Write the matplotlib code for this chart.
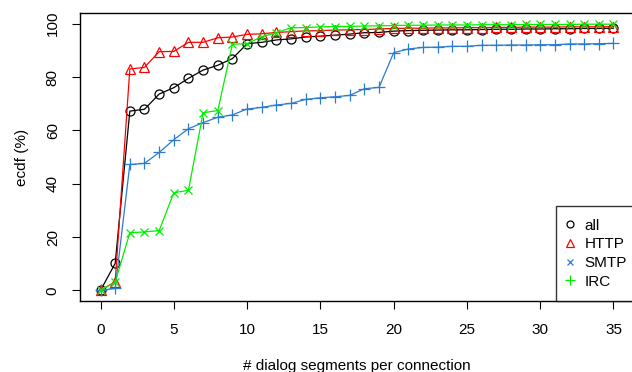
import numpy as np
import matplotlib.pyplot as plt
from matplotlib.lines import Line2D

plt.rcParams['font.family'] = ['Liberation Sans', 'DejaVu Sans']

# ── Data: ecdf (%) per number of dialog segments ──
segments = list(range(36))

ecdf_all = [0, 10.1, 67.2, 67.9, 73.6, 76.0, 79.5, 82.6, 84.4, 86.9,
            92.5, 93.0, 93.9, 94.3, 95.0, 95.3, 95.7, 96.1, 96.6, 96.7,
            97.2, 97.4, 97.5, 97.6, 97.7, 97.7, 97.8, 97.9, 97.9, 98.0,
            98.0, 98.1, 98.1, 98.2, 98.2, 98.3]
ecdf_http = [0, 3.2, 83.0, 83.6, 89.5, 89.6, 93.0, 93.0, 94.7, 95.0,
             96.0, 96.2, 96.7, 97.0, 97.3, 97.4, 97.6, 97.7, 97.8, 98.0,
             98.2, 98.3, 98.3, 98.4, 98.4, 98.5, 98.5, 98.6, 98.6, 98.7,
             98.7, 98.7, 98.8, 98.8, 98.8, 98.9]
ecdf_smtp = [0, 0.7, 47.2, 47.6, 51.7, 56.5, 60.6, 62.9, 64.9, 65.8,
             68.0, 68.6, 69.5, 70.1, 71.6, 72.2, 72.6, 73.1, 75.6, 76.1,
             89.1, 90.5, 91.1, 91.2, 91.5, 91.5, 91.9, 91.9, 92.0, 92.0,
             92.1, 92.1, 92.4, 92.4, 92.5, 92.6]
ecdf_irc = [0, 3.1, 21.6, 21.9, 22.4, 36.6, 37.5, 66.6, 67.4, 92.3,
            92.5, 95.1, 96.6, 98.5, 98.5, 98.8, 98.9, 99.0, 99.1, 99.2,
            99.3, 99.4, 99.4, 99.5, 99.5, 99.5, 99.6, 99.6, 99.6, 99.7,
            99.7, 99.7, 99.7, 99.8, 99.8, 99.8]

labels = ['all', 'HTTP', 'SMTP', 'IRC']
colors = ['black', '#FF0000', '#2B7BD0', '#00EE00']

fig = plt.figure(figsize=(6.32, 3.72), dpi=100)
ax = fig.add_axes([80 / 632, 71 / 372, 554 / 632, 288 / 372])

ax.plot(segments, ecdf_all, color=colors[0], lw=0.9, marker='o',
        ms=6.5, mfc='none', mew=0.9)
ax.plot(segments, ecdf_http, color=colors[1], lw=0.9, marker='^',
        ms=7.5, mfc='none', mew=0.9)
ax.plot(segments, ecdf_smtp, color=colors[2], lw=0.9, marker='+',
        ms=8, mew=0.9)
ax.plot(segments, ecdf_irc, color=colors[3], lw=0.9, marker='x',
        ms=6, mew=0.9)

ax.set_xlim(-1.4, 36.4)
ax.set_ylim(-4, 104)
ax.set_xticks(range(0, 36, 5))
ax.set_yticks(range(0, 101, 20))
ax.tick_params(axis='both', direction='out', length=5.5, width=0.8,
               labelsize=11, colors='black')
ax.tick_params(axis='x', pad=10)
ax.tick_params(axis='y', pad=9, labelrotation=90)
for lab in ax.get_yticklabels():
    lab.set_va('center')
for s in ax.spines.values():
    s.set_linewidth(1.0)

ax.set_xlabel('# dialog segments per connection', fontsize=11, labelpad=16)
ax.set_ylabel('ecdf (%)', fontsize=11, labelpad=12)

# legend markers as drawn in the original (SMTP x, IRC +)
handles = [
    Line2D([], [], ls='none', marker='o', color=colors[0], mfc='none',
           ms=5, mew=0.9),
    Line2D([], [], ls='none', marker='^', color=colors[1], mfc='none',
           ms=6, mew=0.9),
    Line2D([], [], ls='none', marker='x', color=colors[2], ms=5, mew=0.9),
    Line2D([], [], ls='none', marker='+', color=colors[3], ms=7, mew=0.9),
]
# legend box runs past the right edge of the picture, as in the original
leg = ax.legend(handles, labels, loc='lower right',
                bbox_to_anchor=(1.009, 0), borderaxespad=0,
                fontsize=11, frameon=True, fancybox=False, handlelength=0.25,
                handletextpad=0.8, labelspacing=0.31, borderpad=0.8)
leg.get_frame().set_edgecolor('black')
leg.get_frame().set_linewidth(1.0)

fig.savefig('out.png', dpi=100)
